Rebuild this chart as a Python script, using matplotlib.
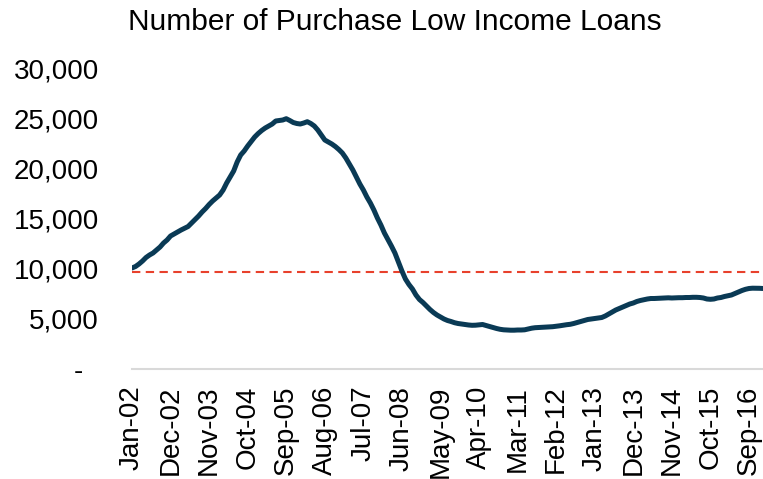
import matplotlib
matplotlib.use("Agg")
import matplotlib.pyplot as plt
from matplotlib.ticker import FuncFormatter

plt.rcParams['font.family'] = ['Liberation Sans', 'DejaVu Sans']

# monthly loan counts, Jan-02 .. Jan-17
loans_2002 = [10100, 10250, 10500, 10800, 11150, 11400, 11600, 11900, 12200, 12600, 12900, 13300]
loans_2003 = [13500, 13700, 13900, 14070, 14250, 14600, 14950, 15300, 15700, 16050, 16450, 16800]
loans_2004 = [17100, 17400, 17900, 18600, 19200, 19800, 20700, 21400, 21800, 22300, 22750, 23200]
loans_2005 = [23550, 23850, 24100, 24300, 24500, 24800, 24850, 24900, 25030, 24850, 24650, 24550]
loans_2006 = [24500, 24600, 24730, 24550, 24300, 23900, 23400, 22900, 22700, 22500, 22250, 21950]
loans_2007 = [21600, 21100, 20500, 19900, 19200, 18500, 17900, 17200, 16600, 15900, 15100, 14400]
loans_2008 = [13600, 12950, 12300, 11600, 10700, 9800, 9000, 8450, 8000, 7400, 6950, 6650]
loans_2009 = [6300, 5950, 5650, 5400, 5200, 5000, 4850, 4750, 4630, 4550, 4500, 4450]
loans_2010 = [4400, 4370, 4380, 4420, 4450, 4350, 4250, 4150, 4050, 3970, 3920, 3900]
loans_2011 = [3880, 3880, 3900, 3900, 3920, 4000, 4080, 4130, 4150, 4170, 4200, 4220]
loans_2012 = [4230, 4270, 4320, 4380, 4430, 4470, 4550, 4650, 4750, 4850, 4950, 5000]
loans_2013 = [5050, 5100, 5150, 5300, 5500, 5700, 5900, 6050, 6200, 6350, 6500, 6600]
loans_2014 = [6750, 6850, 6930, 7000, 7050, 7050, 7070, 7100, 7100, 7120, 7100, 7120]
loans_2015 = [7130, 7130, 7150, 7150, 7170, 7170, 7150, 7100, 7000, 6970, 7000, 7100]
loans_2016 = [7150, 7250, 7330, 7400, 7550, 7700, 7850, 7970, 8050, 8080, 8080, 8070]
loans_2017 = [8050]

loans = (loans_2002 + loans_2003 + loans_2004 + loans_2005 + loans_2006 + loans_2007
         + loans_2008 + loans_2009 + loans_2010 + loans_2011 + loans_2012 + loans_2013
         + loans_2014 + loans_2015 + loans_2016 + loans_2017)
avg_level = 9700

tick_labels = ["Jan-02", "Dec-02", "Nov-03", "Oct-04", "Sep-05", "Aug-06", "Jul-07",
               "Jun-08", "May-09", "Apr-10", "Mar-11", "Feb-12", "Jan-13", "Dec-13",
               "Nov-14", "Oct-15", "Sep-16"]
tick_pos = [11 * i for i in range(len(tick_labels))]

fig = plt.figure(figsize=(7.63, 4.79), dpi=100)
ax = fig.add_axes([132 / 763, 1 - 369 / 479, 1 - 132 / 763, 300 / 479])

x = list(range(len(loans)))
ax.plot(x, [avg_level] * len(x), color="#e8412c", linewidth=1.5, dashes=(4, 2.6))
ax.plot(x, loans, color="#0a3a55", linewidth=3.6, solid_capstyle="round")

ax.set_xlim(0, len(loans) - 1)
ax.set_ylim(0, 30000)
ax.set_yticks(range(0, 30001, 5000))
ax.yaxis.set_major_formatter(FuncFormatter(lambda v, p: "-  " if v == 0 else f"{int(v):,}"))
ax.set_xticks(tick_pos)
ax.set_xticklabels(tick_labels, rotation=90)

for side in ["top", "right", "left"]:
    ax.spines[side].set_visible(False)
ax.spines["bottom"].set_color("#d9d9d9")
ax.spines["bottom"].set_linewidth(1.5)
ax.tick_params(axis="both", length=0, labelsize=20, colors="black")
ax.tick_params(axis="y", pad=24)
ax.tick_params(axis="x", pad=12)

fig.text(395 / 763, 1 - 22 / 479, "Number of Purchase Low Income Loans",
         ha="center", va="center", fontsize=21.5)

fig.savefig("out.png", dpi=100)
